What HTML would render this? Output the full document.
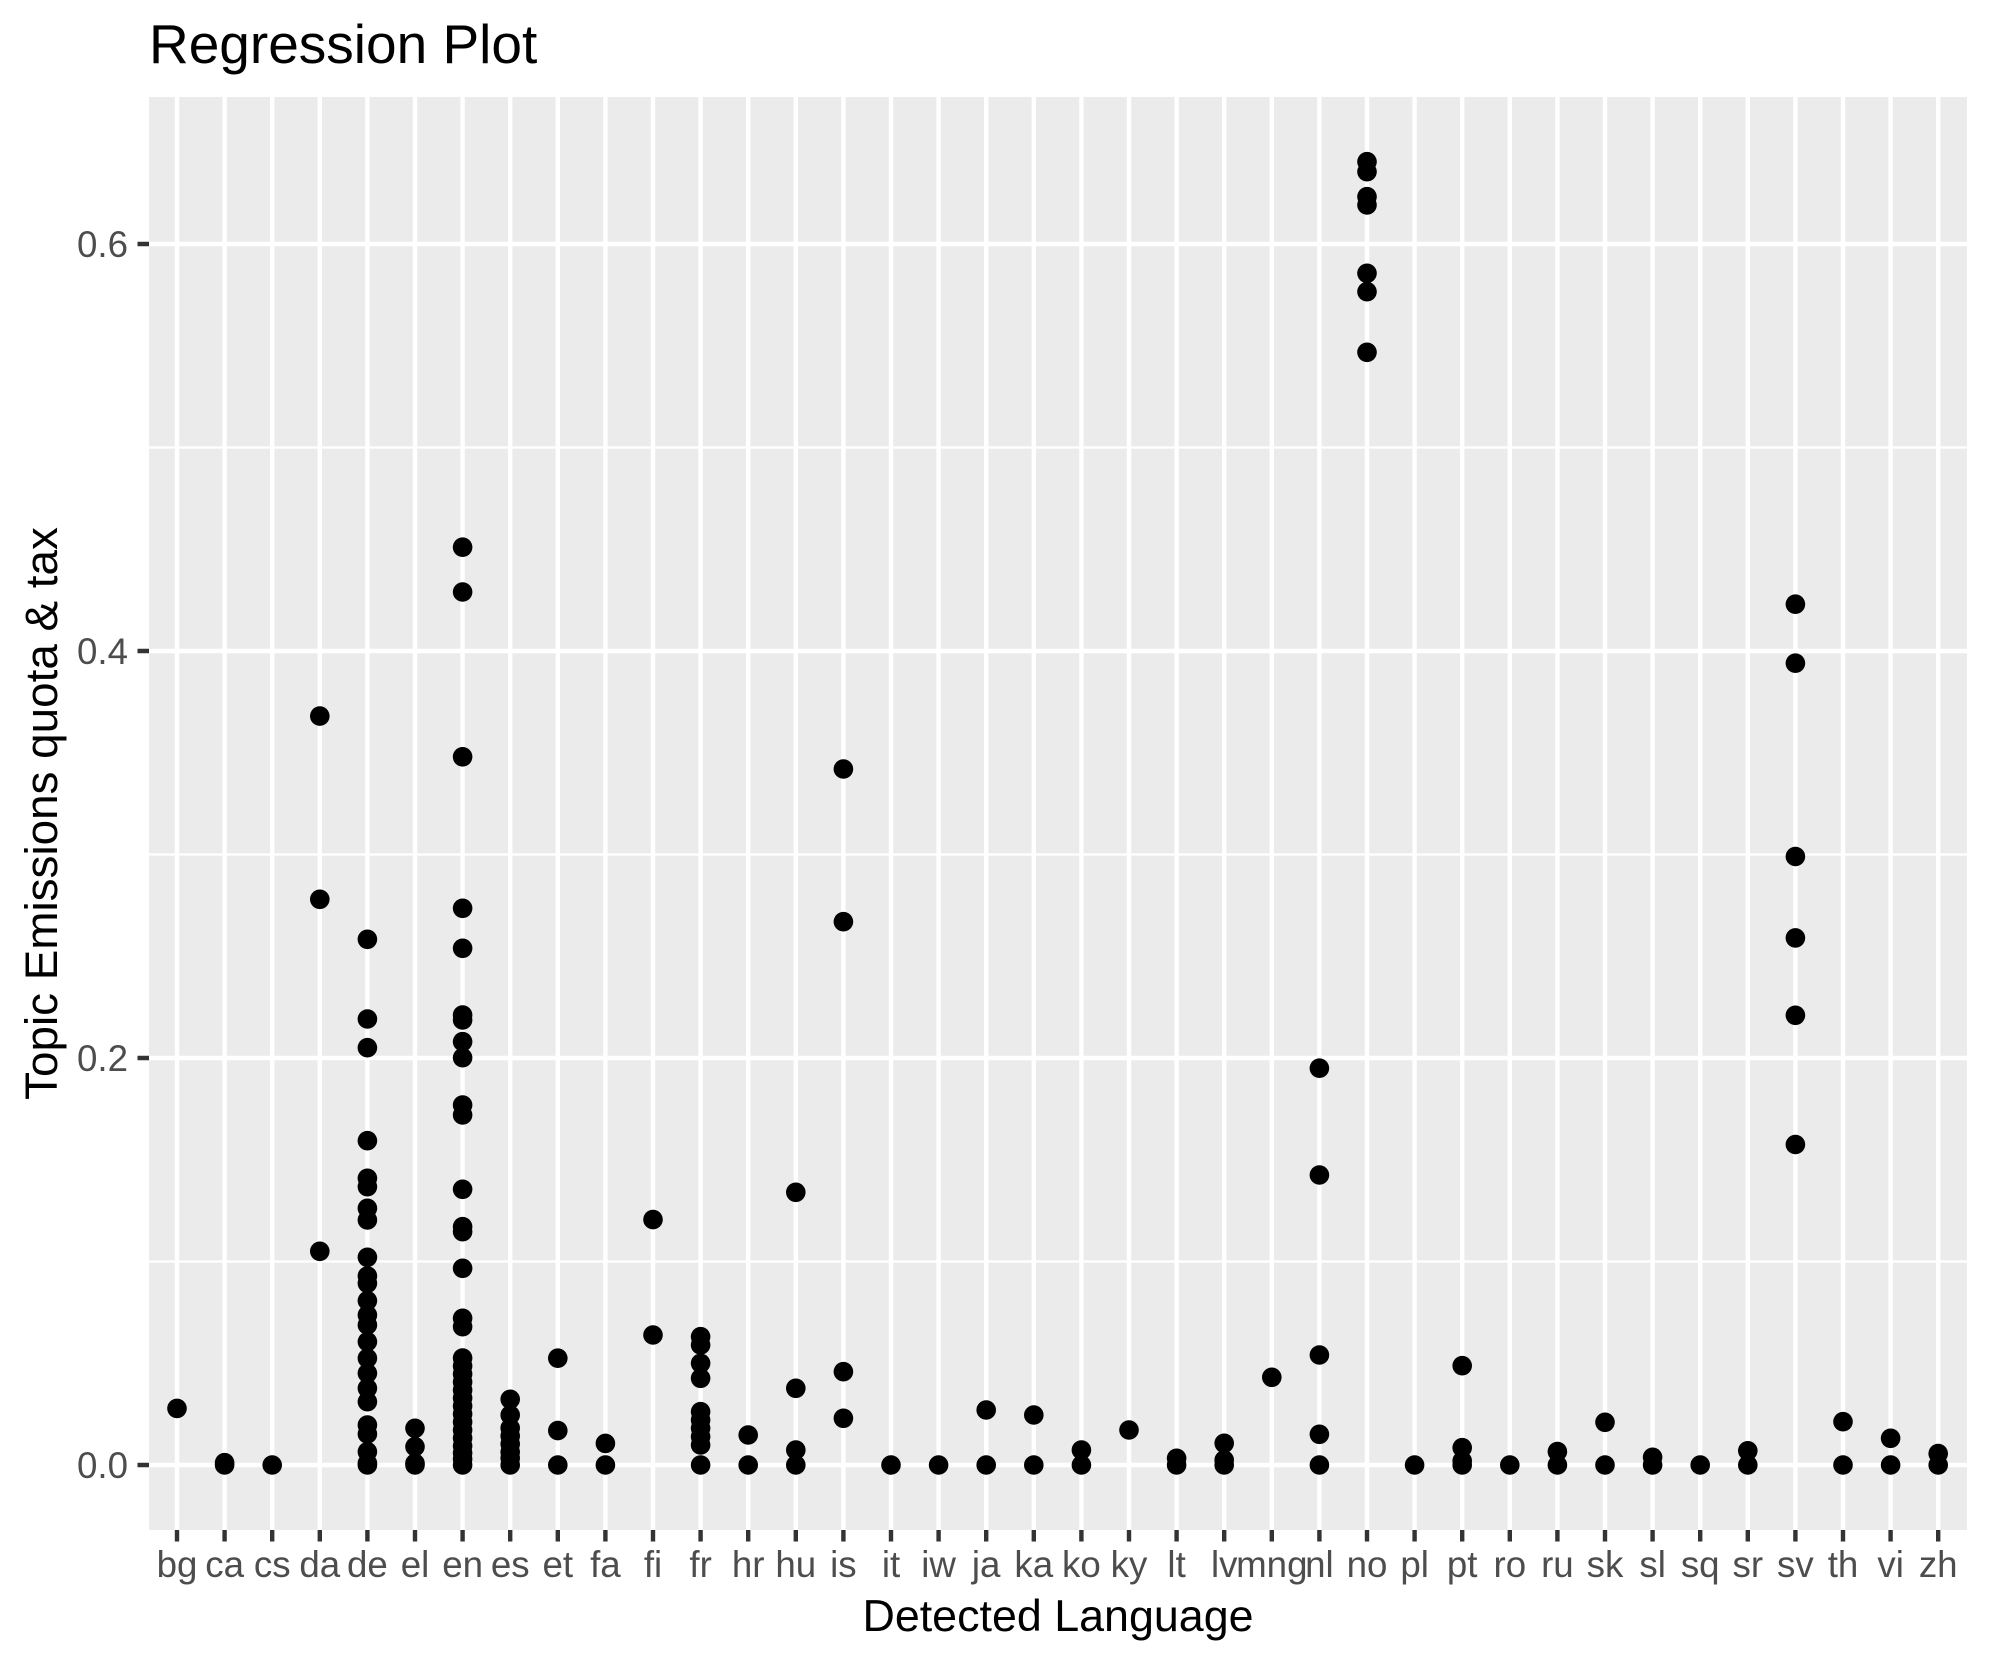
<!DOCTYPE html>
<html><head><meta charset="utf-8"><style>
html,body{margin:0;padding:0;background:#fff;}
svg{display:block;}
text{font-family:"Liberation Sans",Arial,sans-serif;}
</style></head><body>
<svg xmlns="http://www.w3.org/2000/svg" width="1990" height="1665" viewBox="0 0 1990 1665">
<rect width="1990" height="1665" fill="#fff"/>
<rect x="149" y="97" width="1818" height="1433" fill="#EBEBEB"/>
<path stroke="#fff" stroke-width="2.3" fill="none" d="M149 1261.5H1967M149 854.5H1967M149 447.5H1967"/>
<path stroke="#fff" stroke-width="4.4" fill="none" d="M149 1465H1967M149 1058H1967M149 651H1967M149 244H1967
M177 97V1530M224.6 97V1530M272.2 97V1530M319.8 97V1530M367.4 97V1530M415 97V1530M462.6 97V1530M510.2 97V1530M557.8 97V1530M605.4 97V1530
M653 97V1530M700.6 97V1530M748.2 97V1530M795.8 97V1530M843.4 97V1530M891 97V1530M938.6 97V1530M986.2 97V1530M1033.8 97V1530M1081.4 97V1530
M1129 97V1530M1176.6 97V1530M1224.2 97V1530M1271.8 97V1530M1319.4 97V1530M1367 97V1530M1414.6 97V1530M1462.2 97V1530M1509.8 97V1530M1557.4 97V1530
M1605 97V1530M1652.6 97V1530M1700.2 97V1530M1747.8 97V1530M1795.4 97V1530M1843 97V1530M1890.6 97V1530M1938.2 97V1530"/>
<g fill="#000">
<circle cx="177" cy="1408.4" r="9.8"/>
<circle cx="224.6" cy="1462.7" r="9.8"/><circle cx="224.6" cy="1465" r="9.8"/>
<circle cx="272.2" cy="1465" r="9.8"/>
<circle cx="319.8" cy="716.1" r="9.8"/><circle cx="319.8" cy="899.3" r="9.8"/><circle cx="319.8" cy="1251.3" r="9.8"/>
<circle cx="367.4" cy="939.3" r="9.8"/><circle cx="367.4" cy="1019" r="9.8"/><circle cx="367.4" cy="1047.7" r="9.8"/><circle cx="367.4" cy="1140.7" r="9.8"/>
<circle cx="367.4" cy="1178.3" r="9.8"/><circle cx="367.4" cy="1186.7" r="9.8"/><circle cx="367.4" cy="1208.3" r="9.8"/><circle cx="367.4" cy="1220" r="9.8"/>
<circle cx="367.4" cy="1257.3" r="9.8"/><circle cx="367.4" cy="1276" r="9.8"/><circle cx="367.4" cy="1283.3" r="9.8"/><circle cx="367.4" cy="1300.7" r="9.8"/>
<circle cx="367.4" cy="1315" r="9.8"/><circle cx="367.4" cy="1325" r="9.8"/><circle cx="367.4" cy="1341.7" r="9.8"/><circle cx="367.4" cy="1358.3" r="9.8"/>
<circle cx="367.4" cy="1373.3" r="9.8"/><circle cx="367.4" cy="1388.3" r="9.8"/><circle cx="367.4" cy="1401.7" r="9.8"/><circle cx="367.4" cy="1425" r="9.8"/>
<circle cx="367.4" cy="1434" r="9.8"/><circle cx="367.4" cy="1451.7" r="9.8"/><circle cx="367.4" cy="1463.3" r="9.8"/><circle cx="367.4" cy="1465" r="9.8"/>
<circle cx="415" cy="1428.3" r="9.8"/><circle cx="415" cy="1446.7" r="9.8"/><circle cx="415" cy="1463.3" r="9.8"/><circle cx="415" cy="1465" r="9.8"/>
<circle cx="462.6" cy="547.2" r="9.8"/><circle cx="462.6" cy="592" r="9.8"/><circle cx="462.6" cy="756.8" r="9.8"/><circle cx="462.6" cy="908.3" r="9.8"/>
<circle cx="462.6" cy="948.3" r="9.8"/><circle cx="462.6" cy="1015" r="9.8"/><circle cx="462.6" cy="1020" r="9.8"/><circle cx="462.6" cy="1041.7" r="9.8"/>
<circle cx="462.6" cy="1057.7" r="9.8"/><circle cx="462.6" cy="1105" r="9.8"/><circle cx="462.6" cy="1115" r="9.8"/><circle cx="462.6" cy="1189.3" r="9.8"/>
<circle cx="462.6" cy="1226.7" r="9.8"/><circle cx="462.6" cy="1231.7" r="9.8"/><circle cx="462.6" cy="1268.3" r="9.8"/><circle cx="462.6" cy="1318.3" r="9.8"/>
<circle cx="462.6" cy="1326.7" r="9.8"/><circle cx="462.6" cy="1358" r="9.8"/><circle cx="462.6" cy="1366" r="9.8"/><circle cx="462.6" cy="1374" r="9.8"/>
<circle cx="462.6" cy="1382" r="9.8"/><circle cx="462.6" cy="1390" r="9.8"/><circle cx="462.6" cy="1398" r="9.8"/><circle cx="462.6" cy="1406" r="9.8"/>
<circle cx="462.6" cy="1414" r="9.8"/><circle cx="462.6" cy="1422" r="9.8"/><circle cx="462.6" cy="1430" r="9.8"/><circle cx="462.6" cy="1438" r="9.8"/>
<circle cx="462.6" cy="1446" r="9.8"/><circle cx="462.6" cy="1453" r="9.8"/><circle cx="462.6" cy="1459" r="9.8"/><circle cx="462.6" cy="1465" r="9.8"/>
<circle cx="510.2" cy="1399.3" r="9.8"/><circle cx="510.2" cy="1415" r="9.8"/><circle cx="510.2" cy="1428" r="9.8"/><circle cx="510.2" cy="1436" r="9.8"/>
<circle cx="510.2" cy="1444" r="9.8"/><circle cx="510.2" cy="1452" r="9.8"/><circle cx="510.2" cy="1458" r="9.8"/><circle cx="510.2" cy="1465" r="9.8"/>
<circle cx="557.8" cy="1358.2" r="9.8"/><circle cx="557.8" cy="1430.6" r="9.8"/><circle cx="557.8" cy="1465" r="9.8"/>
<circle cx="605.4" cy="1443.4" r="9.8"/><circle cx="605.4" cy="1465" r="9.8"/>
<circle cx="653" cy="1219.6" r="9.8"/><circle cx="653" cy="1335" r="9.8"/>
<circle cx="700.6" cy="1336.7" r="9.8"/><circle cx="700.6" cy="1345" r="9.8"/><circle cx="700.6" cy="1363.3" r="9.8"/><circle cx="700.6" cy="1378.3" r="9.8"/>
<circle cx="700.6" cy="1411.7" r="9.8"/><circle cx="700.6" cy="1420" r="9.8"/><circle cx="700.6" cy="1428.3" r="9.8"/><circle cx="700.6" cy="1436.7" r="9.8"/>
<circle cx="700.6" cy="1445" r="9.8"/><circle cx="700.6" cy="1465" r="9.8"/>
<circle cx="748.2" cy="1435" r="9.8"/><circle cx="748.2" cy="1465" r="9.8"/>
<circle cx="795.8" cy="1192.3" r="9.8"/><circle cx="795.8" cy="1388.3" r="9.8"/><circle cx="795.8" cy="1450" r="9.8"/><circle cx="795.8" cy="1465" r="9.8"/>
<circle cx="843.4" cy="769" r="9.8"/><circle cx="843.4" cy="921.7" r="9.8"/><circle cx="843.4" cy="1371.7" r="9.8"/><circle cx="843.4" cy="1418.3" r="9.8"/>
<circle cx="891" cy="1465" r="9.8"/><circle cx="938.6" cy="1465" r="9.8"/>
<circle cx="986.2" cy="1410" r="9.8"/><circle cx="986.2" cy="1465" r="9.8"/>
<circle cx="1033.8" cy="1415" r="9.8"/><circle cx="1033.8" cy="1465" r="9.8"/>
<circle cx="1081.4" cy="1450" r="9.8"/><circle cx="1081.4" cy="1465" r="9.8"/>
<circle cx="1129" cy="1430" r="9.8"/>
<circle cx="1176.6" cy="1458.3" r="9.8"/><circle cx="1176.6" cy="1465" r="9.8"/>
<circle cx="1224.2" cy="1443.3" r="9.8"/><circle cx="1224.2" cy="1460" r="9.8"/><circle cx="1224.2" cy="1465" r="9.8"/>
<circle cx="1271.8" cy="1377.3" r="9.8"/>
<circle cx="1319.4" cy="1068.2" r="9.8"/><circle cx="1319.4" cy="1175" r="9.8"/><circle cx="1319.4" cy="1355" r="9.8"/><circle cx="1319.4" cy="1434.3" r="9.8"/><circle cx="1319.4" cy="1465" r="9.8"/>
<circle cx="1367" cy="161.7" r="9.8"/><circle cx="1367" cy="171.7" r="9.8"/><circle cx="1367" cy="196.7" r="9.8"/><circle cx="1367" cy="205" r="9.8"/>
<circle cx="1367" cy="273.3" r="9.8"/><circle cx="1367" cy="291.7" r="9.8"/><circle cx="1367" cy="352.3" r="9.8"/>
<circle cx="1414.6" cy="1465" r="9.8"/>
<circle cx="1462.2" cy="1365.7" r="9.8"/><circle cx="1462.2" cy="1447.7" r="9.8"/><circle cx="1462.2" cy="1460.9" r="9.8"/><circle cx="1462.2" cy="1465" r="9.8"/>
<circle cx="1509.8" cy="1465" r="9.8"/>
<circle cx="1557.4" cy="1451.6" r="9.8"/><circle cx="1557.4" cy="1465" r="9.8"/>
<circle cx="1605" cy="1422.3" r="9.8"/><circle cx="1605" cy="1465" r="9.8"/>
<circle cx="1652.6" cy="1457.3" r="9.8"/><circle cx="1652.6" cy="1465" r="9.8"/>
<circle cx="1700.2" cy="1465" r="9.8"/>
<circle cx="1747.8" cy="1450.8" r="9.8"/><circle cx="1747.8" cy="1465" r="9.8"/>
<circle cx="1795.4" cy="604.2" r="9.8"/><circle cx="1795.4" cy="663.2" r="9.8"/><circle cx="1795.4" cy="856.5" r="9.8"/><circle cx="1795.4" cy="937.9" r="9.8"/>
<circle cx="1795.4" cy="1015.3" r="9.8"/><circle cx="1795.4" cy="1144.5" r="9.8"/>
<circle cx="1843" cy="1421.7" r="9.8"/><circle cx="1843" cy="1465" r="9.8"/>
<circle cx="1890.6" cy="1438.3" r="9.8"/><circle cx="1890.6" cy="1465" r="9.8"/>
<circle cx="1938.2" cy="1453.6" r="9.8"/><circle cx="1938.2" cy="1465" r="9.8"/>
</g>
<path stroke="#333" stroke-width="4.4" fill="none" d="M137.5 1465H149M137.5 1058H149M137.5 651H149M137.5 244H149
M177 1530v11.5M224.6 1530v11.5M272.2 1530v11.5M319.8 1530v11.5M367.4 1530v11.5M415 1530v11.5M462.6 1530v11.5M510.2 1530v11.5M557.8 1530v11.5M605.4 1530v11.5
M653 1530v11.5M700.6 1530v11.5M748.2 1530v11.5M795.8 1530v11.5M843.4 1530v11.5M891 1530v11.5M938.6 1530v11.5M986.2 1530v11.5M1033.8 1530v11.5M1081.4 1530v11.5
M1129 1530v11.5M1176.6 1530v11.5M1224.2 1530v11.5M1271.8 1530v11.5M1319.4 1530v11.5M1367 1530v11.5M1414.6 1530v11.5M1462.2 1530v11.5M1509.8 1530v11.5M1557.4 1530v11.5
M1605 1530v11.5M1652.6 1530v11.5M1700.2 1530v11.5M1747.8 1530v11.5M1795.4 1530v11.5M1843 1530v11.5M1890.6 1530v11.5M1938.2 1530v11.5"/>
<g font-size="36.7" fill="#4D4D4D" text-anchor="end">
<text x="128" y="1478">0.0</text><text x="128" y="1071">0.2</text><text x="128" y="664">0.4</text><text x="128" y="257">0.6</text>
</g>
<g font-size="36.7" fill="#4D4D4D" text-anchor="middle">
<text x="177" y="1577">bg</text><text x="224.6" y="1577">ca</text><text x="272.2" y="1577">cs</text><text x="319.8" y="1577">da</text>
<text x="367.4" y="1577">de</text><text x="415" y="1577">el</text><text x="462.6" y="1577">en</text><text x="510.2" y="1577">es</text>
<text x="557.8" y="1577">et</text><text x="605.4" y="1577">fa</text><text x="653" y="1577">fi</text><text x="700.6" y="1577">fr</text>
<text x="748.2" y="1577">hr</text><text x="795.8" y="1577">hu</text><text x="843.4" y="1577">is</text><text x="891" y="1577">it</text>
<text x="938.6" y="1577">iw</text><text x="986.2" y="1577">ja</text><text x="1033.8" y="1577">ka</text><text x="1081.4" y="1577">ko</text>
<text x="1129" y="1577">ky</text><text x="1176.6" y="1577">lt</text><text x="1224.2" y="1577">lv</text><text x="1271.8" y="1577">mng</text>
<text x="1319.4" y="1577">nl</text><text x="1367" y="1577">no</text><text x="1414.6" y="1577">pl</text><text x="1462.2" y="1577">pt</text>
<text x="1509.8" y="1577">ro</text><text x="1557.4" y="1577">ru</text><text x="1605" y="1577">sk</text><text x="1652.6" y="1577">sl</text>
<text x="1700.2" y="1577">sq</text><text x="1747.8" y="1577">sr</text><text x="1795.4" y="1577">sv</text><text x="1843" y="1577">th</text>
<text x="1890.6" y="1577">vi</text><text x="1938.2" y="1577">zh</text>
</g>
<text x="1058" y="1631" font-size="44.8" fill="#000" text-anchor="middle">Detected Language</text>
<text transform="translate(57,813.5) rotate(-90)" font-size="45.8" fill="#000" text-anchor="middle">Topic Emissions quota &amp; tax</text>
<text x="149" y="63" font-size="55" fill="#000">Regression Plot</text>
</svg>
</body></html>
